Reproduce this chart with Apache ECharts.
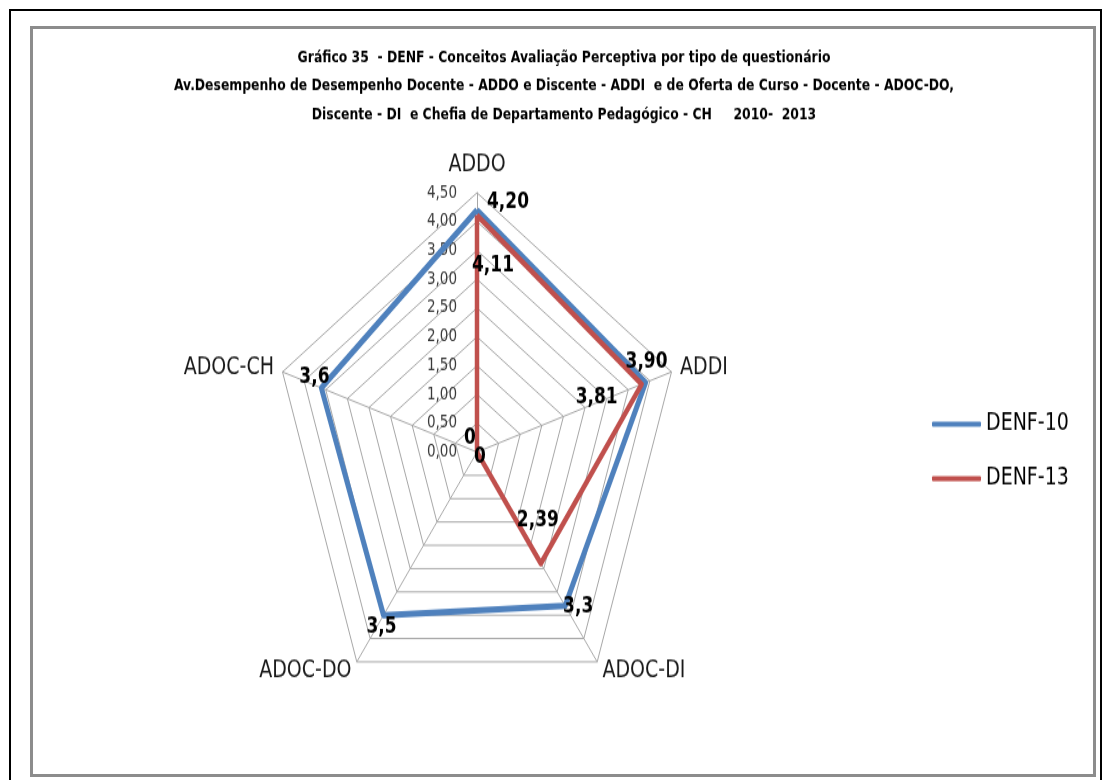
<!DOCTYPE html>
<html lang="pt-BR">
<head>
<meta charset="UTF-8">
<title>Gráfico 35 - DENF</title>
<script src="https://cdnjs.cloudflare.com/ajax/libs/echarts/6.0.0/echarts.min.js"></script>
<style>
  body { margin: 0; background: #fff; }
  #wrap { position: relative; width: 1102px; height: 780px; overflow: hidden; }
  /* o gráfico original (Excel) é esticado na vertical: a rede fica elíptica */
  #main { position: absolute; left: 0; top: 0; width: 1102px; height: 615px;
          transform: scaleY(1.268); transform-origin: 0 0; }
  #outer { position: absolute; left: 9px; top: 9px; width: 1089px; height: 800px; border: 2px solid #000; }
  #inner { position: absolute; left: 30px; top: 26px; width: 1060px; height: 745px; border: 3px solid #8c8c8c; }
</style>
</head>
<body>
<div id="wrap">
  <div id="main"></div>
  <div id="outer"></div>
  <div id="inner"></div>
</div>
<script>
  // ordem dos eixos como o ECharts os desenha (anti-horário a partir do topo)
  var indicators = ['ADDO', 'ADOC-CH', 'ADOC-DO', 'ADOC-DI', 'ADDI'];
  var seriesNames = ['DENF-10', 'DENF-13'];
  var denf10 = [4.20, 3.6, 3.5, 3.3, 3.90];
  var denf13 = [4.11, 0, 0, 2.39, 3.81];
  var labels10 = ['4,20', '3,6', '3,5', '3,3', '3,90'];
  var labels13 = ['4,11', '0', '0', '2,39', '3,81'];
  var axisMax = 4.5;

  var SY = 1.268;
  var font = 'DejaVu Sans';

  // deslocamento (px) de cada rótulo em relação ao seu ponto
  function richFor(shifts) {
    var rich = {};
    shifts.forEach(function (s, i) {
      var dx = s[0], dy = s[1] / SY;
      rich['d' + i] = {
        fontFamily: font, fontSize: 17, fontWeight: 'bold', color: '#000',
        padding: [dy > 0 ? 2 * dy : 0, dx < 0 ? -2 * dx : 0, dy < 0 ? -2 * dy : 0, dx > 0 ? 2 * dx : 0]
      };
    });
    return rich;
  }

  function labelOpt(texts, shifts) {
    return {
      show: true,
      position: 'inside',
      formatter: function (p) {
        return '{d' + p.dimensionIndex + '|' + texts[p.dimensionIndex] + '}';
      },
      rich: richFor(shifts)
    };
  }

  var myChart = echarts.init(document.getElementById('main'));

  var option = {
    animation: false,
    color: ['#4F81BD', '#C0504D'],
    title: {
      text: 'Gráfico 35  - DENF - Conceitos Avaliação Perceptiva por tipo de questionário\n' +
        'Av.Desempenho de Desempenho Docente - ADDO e Discente - ADDI  e de Oferta de Curso - Docente - ADOC-DO,\n' +
        'Discente - DI  e Chefia de Departamento Pedagógico - CH     2010-  2013',
      left: 564,
      top: 34.5,
      textAlign: 'center',
      padding: 0,
      textStyle: { fontFamily: font, fontSize: 12.4, fontWeight: 'bold', color: '#000', lineHeight: 22.4 }
    },
    legend: {
      data: seriesNames,
      orient: 'vertical',
      left: 932,
      top: 325,
      padding: 0,
      itemWidth: 49,
      itemHeight: 4,
      itemGap: 24,
      icon: 'roundRect',
      textStyle: { fontFamily: font, fontSize: 19, color: '#000' }
    },
    radar: {
      center: [477, 356.5],
      radius: 204.5,
      startAngle: 90,
      splitNumber: 9,
      shape: 'polygon',
      nameGap: 9,
      axisName: { fontFamily: font, fontSize: 19, color: '#1a1a1a' },
      axisLine: { lineStyle: { color: '#a6a6a6', width: 1 } },
      splitLine: { lineStyle: { color: '#a6a6a6', width: 1 } },
      splitArea: { show: false },
      axisLabel: { show: false },
      indicator: indicators.map(function (n, i) {
        var ind = { name: n, min: 0, max: axisMax };
        if (i === 0) {
          ind.nameGap = 12;
          ind.axisLabel = {
            show: true, margin: 20, fontFamily: font, fontSize: 13.5, color: '#3a3a3a',
            formatter: function (v) { return v.toFixed(2).replace('.', ','); }
          };
        }
        return ind;
      })
    },
    series: [
      {
        type: 'radar',
        name: seriesNames[0],
        symbol: 'circle',
        symbolSize: 1,
        lineStyle: { width: 5, color: '#4F81BD' },
        itemStyle: { color: '#4F81BD' },
        label: labelOpt(labels10, [[31, -8], [-7, -11], [-2, 12], [13, 1], [1, -20]]),
        data: [{ name: seriesNames[0], value: denf10 }]
      },
      {
        type: 'radar',
        name: seriesNames[1],
        symbol: 'circle',
        symbolSize: 1,
        lineStyle: { width: 4.5, color: '#C0504D' },
        itemStyle: { color: '#C0504D' },
        label: labelOpt(labels13, [[16, 50], [-7, -14], [3, 5], [-3, -43], [-45, 14]]),
        data: [{ name: seriesNames[1], value: denf13 }]
      }
    ]
  };

  myChart.setOption(option);
</script>
</body>
</html>
